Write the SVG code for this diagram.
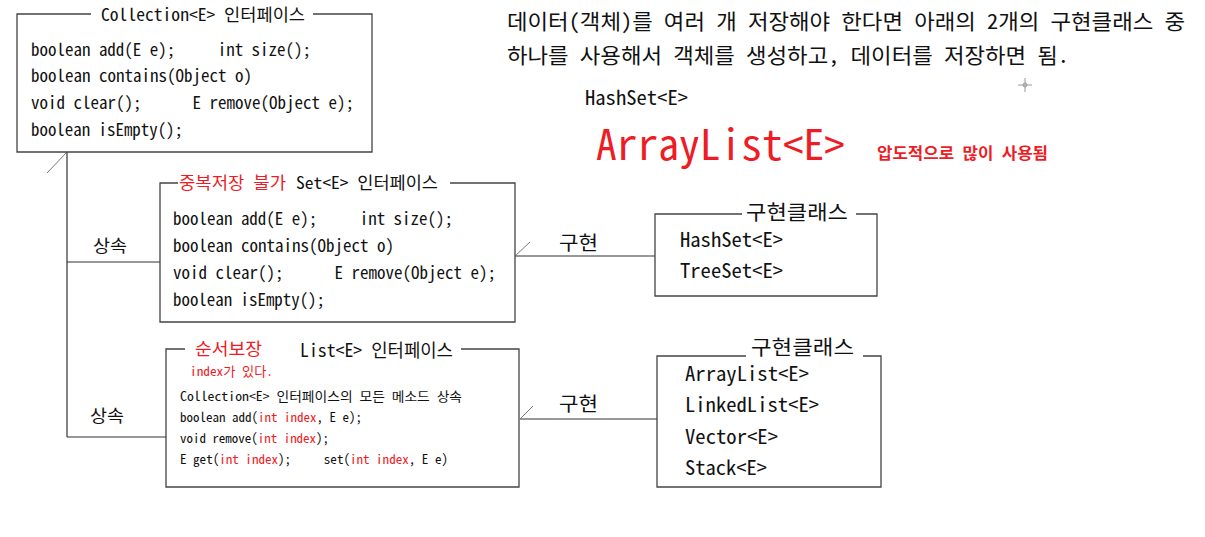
<svg xmlns="http://www.w3.org/2000/svg" width="1205" height="537" viewBox="0 0 1205 537">
<style>
text{font-family:'Noto Sans Mono CJK KR','D2Coding','DejaVu Sans Mono','Noto Sans CJK KR',monospace;fill:#111;dominant-baseline:central;white-space:pre}
.r{fill:#ee1c25}
.box{fill:none;stroke:#444;stroke-width:1.3}
.ln{fill:none;stroke:#333;stroke-width:1.2}
.tk{fill:none;stroke:#777;stroke-width:1}
</style>
<rect width="1205" height="537" fill="#fff"/>
<g id="note">
<text x="507" y="20" font-size="20.9" textLength="678" lengthAdjust="spacingAndGlyphs">데이터(객체)를 여러 개 저장해야 한다면 아래의 2개의 구현클래스 중</text>
<text x="507" y="54" font-size="20.9" textLength="562" lengthAdjust="spacingAndGlyphs">하나를 사용해서 객체를 생성하고, 데이터를 저장하면 됨.</text>
<text x="585" y="96" font-size="20.6" textLength="103" lengthAdjust="spacingAndGlyphs">HashSet&lt;E&gt;</text>
<text class="r" x="596" y="142" font-size="41.5" textLength="249" lengthAdjust="spacingAndGlyphs">ArrayList&lt;E&gt;</text>
<text class="r" x="877" y="152" font-size="15.5" font-weight="bold" textLength="171" lengthAdjust="spacingAndGlyphs">압도적으로 많이 사용됨</text>
<g stroke="#999" stroke-width="1" fill="none"><path d="M1018,85H1032M1025,78V92"/><circle cx="1025" cy="85" r="2"/></g>
</g>
<g id="connectors">
<path class="ln" d="M67,152V437M67,262H160M67,437H166"/>
<path class="tk" d="M47,173L67,152"/>
<path class="ln" d="M515,256H655"/>
<path class="tk" d="M515,256L530,242"/>
<path class="ln" d="M520,419H657"/>
<path class="tk" d="M520,419L533,406"/>
<text x="93" y="244" font-size="17" textLength="34" lengthAdjust="spacingAndGlyphs">상속</text>
<text x="90" y="414" font-size="17" textLength="34" lengthAdjust="spacingAndGlyphs">상속</text>
<text x="559" y="241" font-size="19.5" textLength="39" lengthAdjust="spacingAndGlyphs">구현</text>
<text x="559" y="402" font-size="19.5" textLength="39" lengthAdjust="spacingAndGlyphs">구현</text>
</g>
<g id="collection">
<path class="box" d="M91,14H17V152H372V14H313"/>
<text x="101" y="13" font-size="17" textLength="204" lengthAdjust="spacingAndGlyphs">Collection&lt;E&gt; 인터페이스</text>
<text x="31" y="48" font-size="17" textLength="280" lengthAdjust="spacingAndGlyphs">boolean add(E e);     int size();</text>
<text x="31" y="74" font-size="17" textLength="221" lengthAdjust="spacingAndGlyphs">boolean contains(Object o)</text>
<text x="31" y="101" font-size="17" textLength="323" lengthAdjust="spacingAndGlyphs">void clear();      E remove(Object e);</text>
<text x="31" y="128" font-size="17" textLength="152" lengthAdjust="spacingAndGlyphs">boolean isEmpty();</text>
</g>
<g id="set">
<path class="box" d="M178,183H160V322H515V183H450"/>
<text class="r" x="179" y="182" font-size="16.5" textLength="107" lengthAdjust="spacingAndGlyphs">중복저장 불가</text>
<text x="296" y="182" font-size="16.7" textLength="142" lengthAdjust="spacingAndGlyphs">Set&lt;E&gt; 인터페이스</text>
<text x="173" y="217" font-size="17" textLength="280" lengthAdjust="spacingAndGlyphs">boolean add(E e);     int size();</text>
<text x="173" y="244" font-size="17" textLength="221" lengthAdjust="spacingAndGlyphs">boolean contains(Object o)</text>
<text x="173" y="271" font-size="17" textLength="323" lengthAdjust="spacingAndGlyphs">void clear();      E remove(Object e);</text>
<text x="173" y="298" font-size="17" textLength="152" lengthAdjust="spacingAndGlyphs">boolean isEmpty();</text>
</g>
<g id="list">
<path class="box" d="M185,349H166V487H519V349H461"/>
<text class="r" x="195" y="347" font-size="17" textLength="67" lengthAdjust="spacingAndGlyphs">순서보장</text>
<text x="300" y="349" font-size="18" textLength="153" lengthAdjust="spacingAndGlyphs">List&lt;E&gt; 인터페이스</text>
<text class="r" x="190" y="370" font-size="13" textLength="83" lengthAdjust="spacingAndGlyphs">index가 있다.</text>
<text x="180" y="395" font-size="13" textLength="282" lengthAdjust="spacingAndGlyphs">Collection&lt;E&gt; 인터페이스의 모든 메소드 상속</text>
<text x="180" y="416" font-size="13" textLength="182" lengthAdjust="spacingAndGlyphs">boolean add(<tspan class="r">int index</tspan>, E e);</text>
<text x="180" y="437" font-size="13" textLength="149" lengthAdjust="spacingAndGlyphs">void remove(<tspan class="r">int index</tspan>);</text>
<text x="180" y="458" font-size="13" textLength="268" lengthAdjust="spacingAndGlyphs">E get(<tspan class="r">int index</tspan>);     set(<tspan class="r">int index</tspan>, E e)</text>
</g>
<g id="set-impl">
<path class="box" d="M742,214H655V296H877V214H856"/>
<text x="746" y="211" font-size="20.5" textLength="102" lengthAdjust="spacingAndGlyphs">구현클래스</text>
<text x="680" y="238" font-size="20.6" textLength="103" lengthAdjust="spacingAndGlyphs">HashSet&lt;E&gt;</text>
<text x="680" y="269" font-size="20.6" textLength="103" lengthAdjust="spacingAndGlyphs">TreeSet&lt;E&gt;</text>
</g>
<g id="list-impl">
<path class="box" d="M746,356H657V487H881V356H863"/>
<text x="751" y="346" font-size="20" textLength="103" lengthAdjust="spacingAndGlyphs">구현클래스</text>
<text x="685" y="372" font-size="20.6" textLength="124" lengthAdjust="spacingAndGlyphs">ArrayList&lt;E&gt;</text>
<text x="685" y="403" font-size="20.6" textLength="134" lengthAdjust="spacingAndGlyphs">LinkedList&lt;E&gt;</text>
<text x="685" y="435" font-size="20.6" textLength="93" lengthAdjust="spacingAndGlyphs">Vector&lt;E&gt;</text>
<text x="685" y="466" font-size="20.6" textLength="82" lengthAdjust="spacingAndGlyphs">Stack&lt;E&gt;</text>
</g>
</svg>
